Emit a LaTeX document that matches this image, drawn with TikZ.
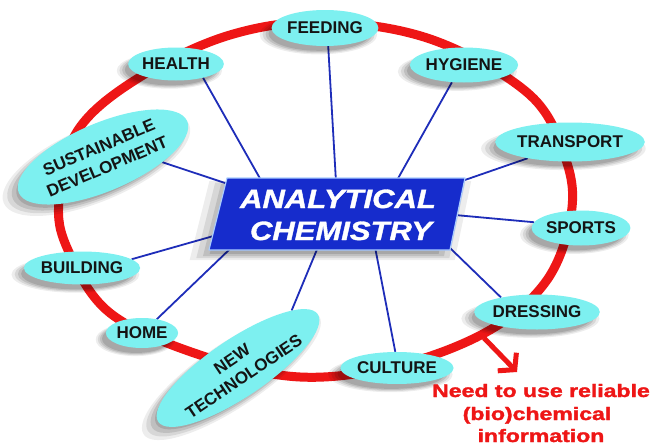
\documentclass[tikz,border=0pt]{standalone}
\usepackage{fontspec}
\setmainfont{Liberation Sans}
\newfontfamily\heavyfont{Liberation Sans}[BoldFeatures={FakeBold=1.6}, BoldItalicFeatures={FakeBold=1.2}]
\usetikzlibrary{shapes.geometric,shadows,arrows.meta}
\definecolor{ringred}{RGB}{238,22,22}
\definecolor{bubble}{RGB}{125,240,240}
\definecolor{boxblue}{RGB}{22,44,204}
\definecolor{linkblue}{RGB}{30,45,185}
\definecolor{boxedge}{RGB}{170,205,255}
\definecolor{txt}{RGB}{20,20,20}
\pgfdeclarelayer{bg}\pgfdeclarelayer{mid}\pgfsetlayers{bg,mid,main}
\begin{document}
\begin{tikzpicture}[x=1pt,y=-1pt,
 softshadow/.style={
   drop shadow={shadow xshift=-6pt, shadow yshift=-6pt, shadow scale=1.10, fill=black, opacity=0.07},
   drop shadow={shadow xshift=-6pt, shadow yshift=-6pt, shadow scale=1.05, fill=black, opacity=0.09},
   drop shadow={shadow xshift=-6pt, shadow yshift=-6pt, shadow scale=1.00, fill=black, opacity=0.11},
   drop shadow={shadow xshift=-6pt, shadow yshift=-6pt, shadow scale=0.95, fill=black, opacity=0.12}},
 bubblenode/.style={ellipse, fill=bubble, inner sep=0pt, text=txt,
   font=\bfseries\fontsize{17}{21}\selectfont, align=center, softshadow},
 link/.style={draw=linkblue, line width=1.8pt},
 titletext/.style={anchor=base, text=white, inner sep=0pt, font=\heavyfont\bfseries\itshape\fontsize{26.5}{32}\selectfont},
 notetext/.style={anchor=base, text=ringred, inner sep=0pt, font=\heavyfont\bfseries\fontsize{18}{22}\selectfont},
 ]
\useasboundingbox (0,0) rectangle (654,447);
\begin{pgfonlayer}{bg}
\fill[white] (0,0) rectangle (654,447);
\draw[ringred, line width=9pt] plot[smooth cycle, tension=0.6] coordinates {
 (325,22) (433,40) (530,95) (566,160) (571,215) (547,280) (490,330) (400,365)
 (300,377) (200,355) (110,313) (68,250) (59,200) (78,130) (140,77) (230,35)};
\end{pgfonlayer}

% bubbles
\node[bubblenode, minimum width=100pt, minimum height=36pt] (feed) at (325,28) {FEEDING};
\node[bubblenode, minimum width=95pt, minimum height=33pt] (health) at (176,64) {HEALTH};
\node[bubblenode, minimum width=96pt, minimum height=35pt] (hyg) at (464,65) {HYGIENE};
\node[bubblenode, minimum width=125pt, minimum height=39pt] (trans) at (570,142) {TRANSPORT};
\node[bubblenode, minimum width=85pt, minimum height=35pt] (sports) at (581,228) {SPORTS};
\node[bubblenode, minimum width=100pt, minimum height=35pt] (dress) at (537,312) {DRESSING};
\node[bubblenode, minimum width=108pt, minimum height=32pt] (cult) at (397,368) {CULTURE};
\node[bubblenode, minimum width=100pt, minimum height=33pt] (build) at (82,268) {BUILDING};
\node[bubblenode, minimum width=70pt, minimum height=30pt] (home) at (142,333) {HOME};
\node[bubblenode, minimum width=170pt, minimum height=68pt, rotate=23] (sust) at (103,157) {SUSTAINABLE\\DEVELOPMENT};
\node[bubblenode, minimum width=162pt, minimum height=58pt, rotate=34] (ntech) at (238,368) {NEW\\TECHNOLOGIES};

% central box
\coordinate (tl) at (227,178);
\coordinate (tr) at (465,178);
\coordinate (br) at (450,250);
\coordinate (bl) at (209,250);
\fill[boxblue, softshadow] (tl) -- (tr) -- (br) -- (bl) -- cycle;
\draw[boxedge, line width=1.2pt, line join=round] (tl) -- (tr) -- (br) -- (bl) -- cycle;
\node[titletext] (t1) at (338,208) {\scalebox{1.17}[1]{ANALYTICAL}};
\node[titletext] (t2) at (341,240) {\scalebox{1.17}[1]{CHEMISTRY}};

% connector ends on the box
\coordinate (bF) at (336,182);
\coordinate (bH) at (262,182);
\coordinate (bY) at (396,182);
\coordinate (bT) at (462,181);
\coordinate (bS) at (455,215);
\coordinate (bD) at (449,247);
\coordinate (bC) at (375,247);
\coordinate (bN) at (318,247);
\coordinate (bHo) at (232,247);
\coordinate (bB) at (217,235);
\coordinate (bSu) at (228,184);

\begin{pgfonlayer}{mid}
\draw[link] (feed.-80) -- (bF);
\draw[link] (health.-27) -- (bH);
\draw[link] (hyg.-125) -- (bY);
\draw[link] (trans.-159) -- (bT);
\draw[link] (sports.173) -- (bS);
\draw[link] (dress.158) -- (bD);
\draw[link] (cult.96) -- (bC);
\draw[link] (ntech.13) -- (bN);
\draw[link] (home.43) -- (bHo);
\draw[link] (build.10) -- (bB);
\draw[link] (sust.-28) -- (bSu);
\end{pgfonlayer}

% arrow and note
\coordinate (arrS) at (484,338);
\coordinate (arrE) at (517,372);
\draw[ringred, line width=5pt, -{Straight Barb[length=11pt,width=26pt]}] (arrS) -- (arrE);
\node[notetext] (n1) at (541,397) {\scalebox{1.28}[1]{Need to use reliable}};
\node[notetext] (n2) at (537,420) {\scalebox{1.28}[1]{(bio)chemical}};
\node[notetext] (n3) at (541,442) {\scalebox{1.28}[1]{information}};
\end{tikzpicture}
\end{document}
